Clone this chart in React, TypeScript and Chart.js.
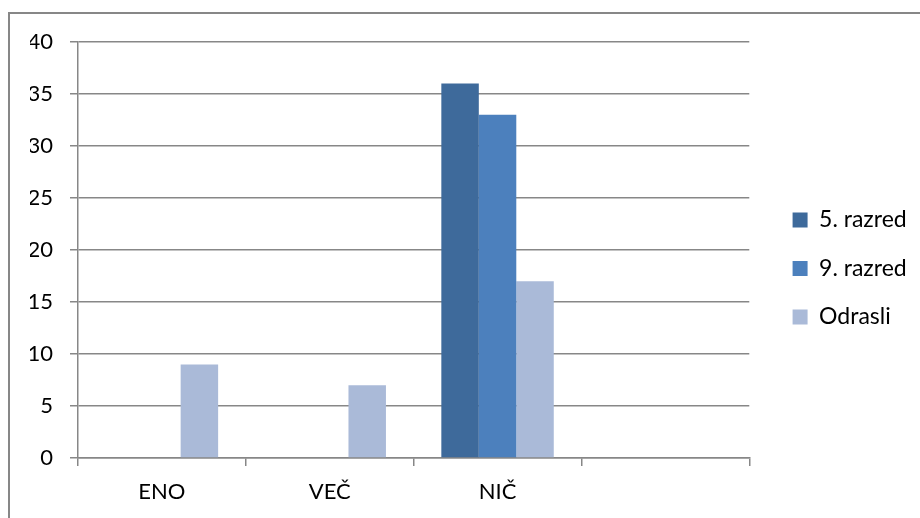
import { useEffect, useRef } from 'react';
import { Chart, registerables } from 'chart.js';

Chart.register(...registerables);

const categories = ['ENO', 'VEČ', 'NIČ', ''];
const seriesNames = ['5. razred', '9. razred', 'Odrasli'];
const razred5 = [0, 0, 36, null];
const razred9 = [0, 0, 33, null];
const odrasli = [9, 7, 17, null];
const seriesColors = ['#3E6A9B', '#4C80BD', '#AABAD8'];
const yMin = 0;
const yMax = 40;
const yStep = 5;

const gridColor = '#878787';
const fontFamily = 'Lato';

export default function App() {
  const ref = useRef<HTMLCanvasElement>(null);

  useEffect(() => {
    if (!ref.current) return;
    const values = [razred5, razred9, odrasli];
    const chart = new Chart(ref.current, {
      type: 'bar',
      data: {
        labels: categories,
        datasets: seriesNames.map((name, i) => ({
          label: name,
          data: values[i],
          backgroundColor: seriesColors[i],
          borderWidth: 0,
          categoryPercentage: 0.67,
          barPercentage: 1,
        })),
      },
      options: {
        responsive: false,
        animation: false,
        layout: { padding: { left: 30, top: 20, right: 5.5, bottom: 1 } },
        plugins: {
          tooltip: { enabled: false },
          title: {
            display: true,
            text: '',
            font: { size: 12, lineHeight: 1 },
            padding: { top: 0, bottom: 10 },
          },
          legend: {
            position: 'right',
            align: 'center',
            labels: {
              boxWidth: 15,
              boxHeight: 15,
              padding: 25.5,
              color: '#000',
              font: { family: fontFamily, size: 23 },
            },
          },
        },
        scales: {
          x: {
            offset: true,
            grid: {
              offset: true,
              drawOnChartArea: false,
              drawTicks: true,
              tickLength: 8,
              color: gridColor,
              lineWidth: 1.5,
            },
            border: { display: true, color: gridColor, width: 1.5 },
            ticks: {
              color: '#000',
              padding: 13,
              font: { family: fontFamily, size: 22 },
              maxRotation: 0,
            },
            afterFit: (s: any) => {
              s.height = 59;
            },
          },
          y: {
            min: yMin,
            max: yMax,
            grid: {
              color: gridColor,
              lineWidth: 1.5,
              tickLength: 8,
              drawTicks: true,
            },
            border: { display: true, color: gridColor, width: 1.5 },
            ticks: {
              stepSize: yStep,
              color: '#000',
              padding: 17,
              font: { family: fontFamily, size: 22 },
            },
            afterFit: (s: any) => {
              s.width = 48;
            },
          },
          y2: {
            position: 'right',
            display: true,
            grid: { display: false, drawTicks: false },
            border: { display: false },
            ticks: { display: false },
            afterFit: (s: any) => {
              s.width = 17.8;
            },
          },
        },
      },
    });
    return () => chart.destroy();
  }, []);

  return (
    <div
      style={{
        position: 'fixed',
        left: 0,
        top: 0,
        width: 920,
        height: 518,
        overflow: 'hidden',
        background: '#fff',
      }}
    >
      <div
        style={{
          position: 'absolute',
          left: 8,
          top: 12,
          width: 1000,
          height: 1000,
          border: '2px solid #878787',
        }}
      />
      <canvas
        ref={ref}
        width={920}
        height={518}
        style={{ position: 'absolute', left: 0, top: 0 }}
      />
    </div>
  );
}
